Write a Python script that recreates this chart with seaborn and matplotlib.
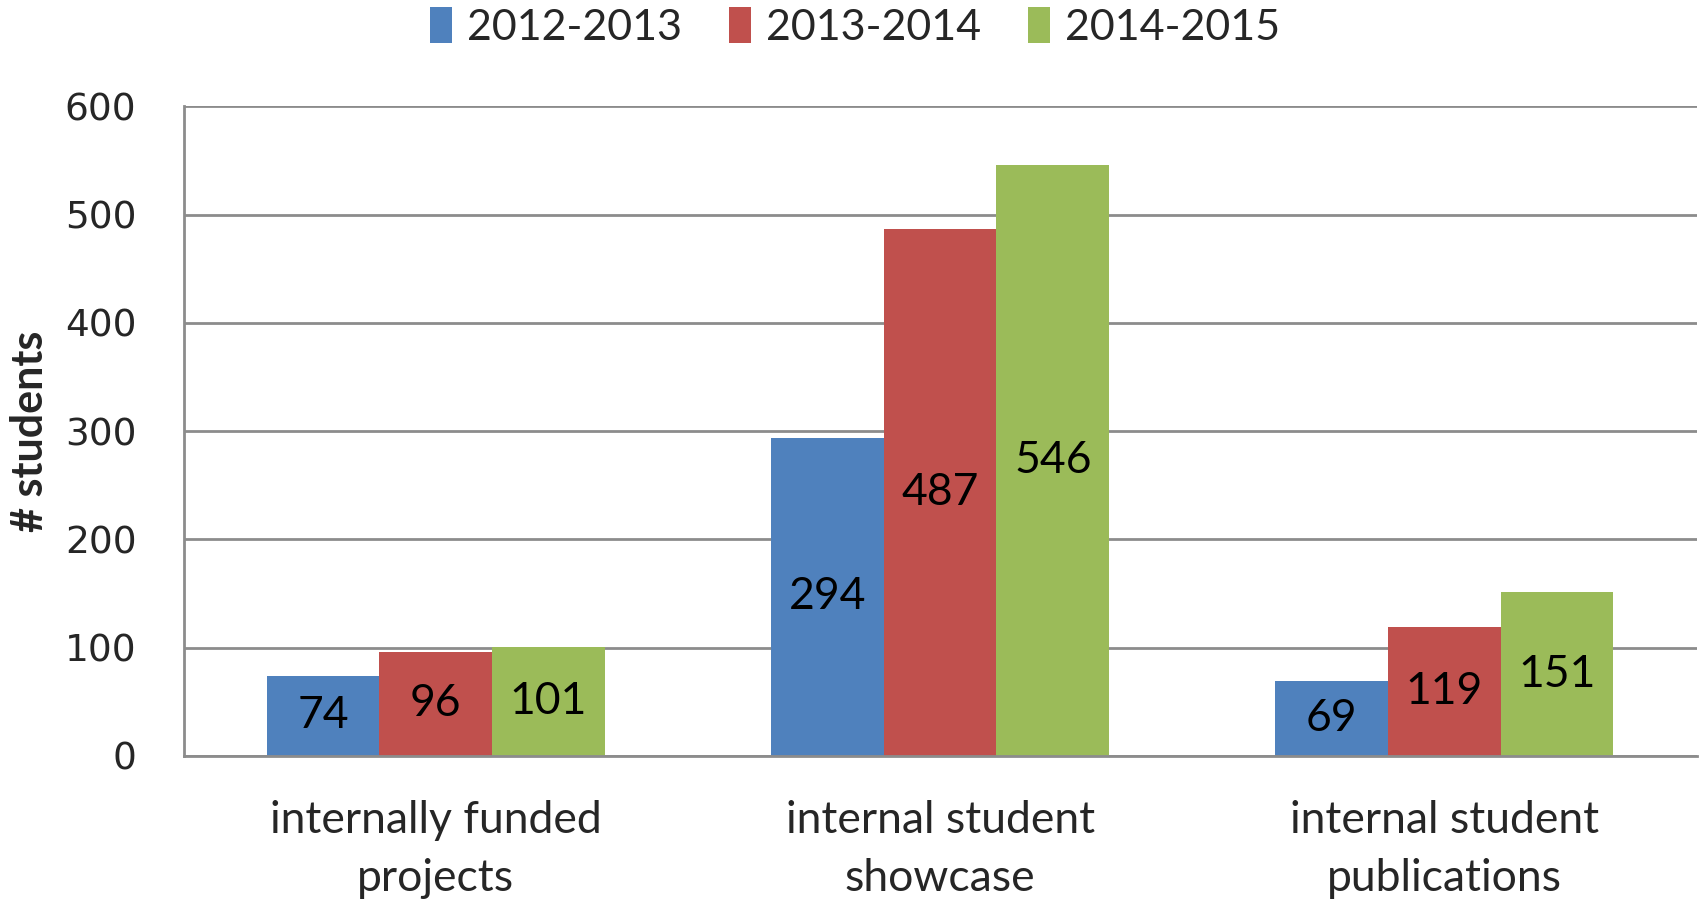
import pandas as pd
import matplotlib
matplotlib.use("Agg")
import matplotlib.pyplot as plt
import seaborn as sns

# data
categories = ["internally funded\nprojects", "internal student\nshowcase", "internal student\npublications"]
years = ["2012-2013", "2013-2014", "2014-2015"]
v_2012 = [74, 294, 69]
v_2013 = [96, 487, 119]
v_2014 = [101, 546, 151]
colors = ["#4F81BD", "#C0504D", "#9BBB59"]

df = pd.DataFrame({
    "category": categories * 3,
    "year": [years[0]] * 3 + [years[1]] * 3 + [years[2]] * 3,
    "students": v_2012 + v_2013 + v_2014,
})

sns.set_style("white")
plt.rcParams["font.family"] = ["Lato", "DejaVu Sans"]

fig = plt.figure(figsize=(17, 9.01), dpi=100)
ax = fig.add_axes([0.108, 0.161, 0.890, 0.721])

sns.barplot(data=df, x="category", y="students", hue="year", palette=colors,
            width=0.67, linewidth=0, saturation=1, ax=ax)

for c in ax.containers:
    ax.bar_label(c, label_type="center", fontsize=32, color="black")

ax.set_ylim(0, 600)
ax.set_xlim(-0.5, 2.5)
ax.set_yticks(range(0, 601, 100))
ax.yaxis.grid(True, color="#8c8c8c", linewidth=2)
ax.set_axisbelow(True)
for s in ["top", "right"]:
    ax.spines[s].set_visible(False)
for s in ["left", "bottom"]:
    ax.spines[s].set_color("#8c8c8c")
    ax.spines[s].set_linewidth(2)

ax.tick_params(axis="y", length=0, pad=34)
ax.tick_params(axis="x", length=0, pad=32)
for t in ax.get_yticklabels():
    t.set_fontfamily("DejaVu Sans")
    t.set_fontsize(27)
for t in ax.get_xticklabels():
    t.set_fontsize(32)
    t.set_linespacing(1.5)

ax.set_xlabel("")
ax.set_ylabel("# students", fontsize=31, fontweight="bold")
ax.yaxis.set_label_coords(-0.088, 0.5)

handles, labels = ax.get_legend_handles_labels()
ax.get_legend().remove()
fig.legend(handles, labels, loc="upper center", bbox_to_anchor=(0.503, 1.035), ncol=3,
           frameon=False, fontsize=31, handlelength=0.5, handleheight=0.9,
           handletextpad=0.35, columnspacing=1.1)

fig.savefig("out.png", dpi=100)
